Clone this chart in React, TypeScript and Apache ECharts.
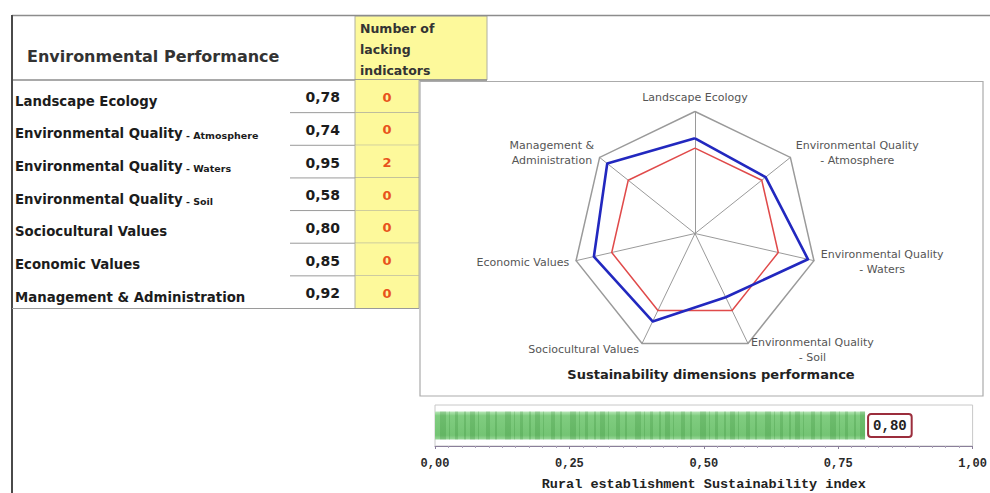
import React, { useEffect, useRef } from 'react';
import * as echarts from 'echarts';

// ---- data ----
const dimensionNames = [
  'Landscape Ecology',
  'Environmental Quality',
  'Environmental Quality',
  'Environmental Quality',
  'Sociocultural Values',
  'Economic Values',
  'Management & Administration',
];
const dimensionSubs = ['', 'Atmosphere', 'Waters', 'Soil', '', '', ''];
const performance = [0.78, 0.74, 0.95, 0.58, 0.8, 0.85, 0.92];
const lackingIndicators = [0, 0, 2, 0, 0, 0, 0];
const referenceLevel = [0.7, 0.7, 0.7, 0.7, 0.7, 0.7, 0.7];
const sustainabilityIndex = [0.8];
const indexCategories = ['Index'];
const headerTitle = 'Environmental Performance';
const headerLacking = ['Number of', 'lacking', 'indicators'];
const radarTitle = 'Sustainability dimensions performance';
const indexTitle = 'Rural establishment Sustainability index';

const fmt = (v: number) => Number(v).toFixed(2).replace('.', ',');
const fullName = (i: number) =>
  dimensionSubs[i] ? `${dimensionNames[i]}\n- ${dimensionSubs[i]}` : dimensionNames[i];

const SANS = '"DejaVu Sans", sans-serif';
const MONO = '"Liberation Mono", monospace';

export default function App() {
  const ref = useRef<HTMLDivElement>(null);
  useEffect(() => {
    const chart = echarts.init(ref.current!, null, { renderer: 'svg' });
    const radarOrder = [0, 6, 5, 4, 3, 2, 1];

    const option: any = {
      animation: false,
      backgroundColor: '#ffffff',
      grid: [
        { left: 12, top: 80, width: 407, height: 228.5, show: false },
        {
          left: 435,
          top: 405,
          width: 538,
          height: 41,
          show: true,
          borderColor: '#c8c8c8',
          borderWidth: 1,
          backgroundColor: 'transparent',
        },
      ],
      xAxis: [
        { gridIndex: 0, type: 'value', min: 0, max: 1, show: false },
        {
          gridIndex: 1,
          type: 'value',
          min: 0,
          max: 1,
          interval: 0.25,
          position: 'bottom',
          axisLine: { show: true, lineStyle: { color: '#8a7f9a', width: 1 } },
          axisTick: { show: true, length: 3, lineStyle: { color: '#8a7f9a' } },
          minorTick: { show: true, splitNumber: 10, length: 2, lineStyle: { color: '#aaa0b8' } },
          splitLine: { show: false },
          axisLabel: {
            formatter: (v: number) => fmt(v),
            fontFamily: MONO,
            fontSize: 12,
            fontWeight: 'bold',
            color: '#2a2a2a',
            margin: 12,
          },
          name: indexTitle,
          nameLocation: 'middle',
          nameGap: 31,
          nameTextStyle: { fontFamily: MONO, fontSize: 13.5, color: '#222', fontWeight: 'bold' },
        },
      ],
      yAxis: [
        {
          gridIndex: 0,
          type: 'category',
          inverse: true,
          data: dimensionNames.map((n, i) => (dimensionSubs[i] ? `${n} - ${dimensionSubs[i]}` : n)),
          show: false,
        },
        { gridIndex: 1, type: 'category', data: indexCategories, show: false },
      ],
      radar: {
        center: [695, 233.5],
        radius: 122,
        startAngle: 90,
        splitNumber: 1,
        shape: 'polygon',
        nameGap: 7,
        indicator: radarOrder.map((i) => ({ name: fullName(i), min: 0, max: 1 })),
        axisName: {
          formatter: (n: string) =>
            n
              .replace('& ', '&\n')
              .split('\n')
              .map((l) => `{c|${l}}`)
              .join('\n'),
          rich: {
            c: { align: 'center', fontSize: 11, fontFamily: SANS, color: '#555', lineHeight: 15 },
          },
        },
        axisLine: { lineStyle: { color: '#9a9a9a', width: 1 } },
        splitLine: { lineStyle: { color: '#9a9a9a', width: 1.5 } },
        splitArea: { show: false },
        axisTick: { show: false },
        axisLabel: { show: false },
      },
      series: [
        {
          type: 'custom',
          xAxisIndex: 0,
          yAxisIndex: 0,
          data: dimensionNames.map((_, i) => [0, i, performance[i], lackingIndicators[i]]),
          encode: { x: 0, y: 1 },
          renderItem: (params: any, api: any) => {
            const i = api.value(1);
            const c = api.coord([0, i]);
            const h = api.size([0, 1])[1];
            const cs = params.coordSys;
            const x0 = cs.x;
            const top = c[1] - h / 2;
            const last = i === dimensionNames.length - 1;
            const sub = dimensionSubs[i];
            const text = sub
              ? `{m|${dimensionNames[i]}}{s| - ${sub}}`
              : `{m|${dimensionNames[i]}}`;
            return {
              type: 'group',
              children: [
                {
                  type: 'rect',
                  shape: { x: x0 + 343, y: top, width: 64, height: h },
                  style: { fill: '#fdf99b' },
                },
                {
                  type: 'line',
                  shape: { x1: x0 + 343, y1: top, x2: x0 + 343, y2: top + h },
                  style: { stroke: '#b0b0a0', lineWidth: 1 },
                },
                {
                  type: 'line',
                  shape: { x1: x0 + 407, y1: top, x2: x0 + 407, y2: top + h },
                  style: { stroke: '#b0b0a0', lineWidth: 1 },
                },
                {
                  type: 'text',
                  style: {
                    x: x0 + 3,
                    y: c[1] + 5,
                    text,
                    align: 'left',
                    verticalAlign: 'middle',
                    rich: {
                      m: {
                        fontFamily: SANS,
                        fontSize: 13.3,
                        fontWeight: 'bold',
                        fill: '#1c1c1c',
                        lineHeight: 16,
                      },
                      s: {
                        fontFamily: SANS,
                        fontSize: 9.5,
                        fontWeight: 'bold',
                        fill: '#1c1c1c',
                        lineHeight: 16,
                        verticalAlign: 'bottom',
                        padding: [0, 0, 1, 0],
                      },
                    },
                  },
                },
                {
                  type: 'text',
                  style: {
                    x: x0 + 328,
                    y: c[1] + 1,
                    text: fmt(api.value(2)),
                    align: 'right',
                    verticalAlign: 'middle',
                    fontFamily: SANS,
                    fontSize: 14,
                    fontWeight: 'bold',
                    fill: '#1c1c1c',
                  },
                },
                {
                  type: 'text',
                  style: {
                    x: x0 + 375,
                    y: c[1] + 1,
                    text: String(api.value(3)),
                    align: 'center',
                    verticalAlign: 'middle',
                    fontFamily: SANS,
                    fontSize: 13,
                    fontWeight: 'bold',
                    fill: '#e8531c',
                  },
                },
                {
                  type: 'line',
                  shape: last
                    ? { x1: x0, y1: top + h, x2: x0 + 407, y2: top + h }
                    : { x1: x0 + 278, y1: top + h, x2: x0 + 407, y2: top + h },
                  style: { stroke: '#9a9a9a', lineWidth: 1 },
                },
              ],
            };
          },
        },
        {
          type: 'radar',
          symbol: 'none',
          data: [
            {
              name: 'Reference',
              value: radarOrder.map((i) => referenceLevel[i]),
              lineStyle: { color: '#e04a4a', width: 1.5 },
            },
            {
              name: 'Performance',
              value: radarOrder.map((i) => performance[i]),
              lineStyle: { color: '#2228bf', width: 2.6 },
            },
          ],
        },
        {
          type: 'bar',
          xAxisIndex: 1,
          yAxisIndex: 1,
          data: sustainabilityIndex,
          barWidth: 28,
          itemStyle: {
            color: new echarts.graphic.LinearGradient(0, 0, 0, 1, [
              { offset: 0, color: '#b8e6b8' },
              { offset: 0.15, color: '#80cd80' },
              { offset: 0.85, color: '#74c474' },
              { offset: 1, color: '#9ad89a' },
            ]),
            decal: {
              symbol: 'rect',
              symbolSize: 1,
              color: 'rgba(40,125,40,0.22)',
              dashArrayX: [3, 6, 2, 4, 5, 3, 1, 7, 4, 5, 2, 8, 6, 3, 1, 5],
              dashArrayY: [5, 0],
              rotation: 0,
            },
          },
          label: {
            show: true,
            position: 'right',
            distance: 4,
            formatter: (p: any) => fmt(p.value),
            fontFamily: MONO,
            fontWeight: 'bold',
            fontSize: 14,
            color: '#222',
            backgroundColor: '#fff',
            borderColor: '#9b2d3c',
            borderWidth: 2,
            borderRadius: 2,
            padding: [4, 4, 3, 4],
          },
        },
      ],
      graphic: [
        {
          type: 'rect',
          shape: { x: 420, y: 81.5, width: 563, height: 314.5 },
          style: { fill: 'none', stroke: '#ababab', lineWidth: 1.2 },
          z: -10,
        },
        {
          type: 'rect',
          shape: { x: 355, y: 16, width: 132, height: 64 },
          style: { fill: '#fdf99b', stroke: '#b0b0a0', lineWidth: 1 },
        },
        {
          type: 'line',
          shape: { x1: 12, y1: 15.5, x2: 990, y2: 15.5 },
          style: { stroke: '#8c8c8c', lineWidth: 1.5 },
        },
        {
          type: 'line',
          shape: { x1: 12, y1: 80, x2: 487, y2: 80 },
          style: { stroke: '#8c8c8c', lineWidth: 1.5 },
        },
        {
          type: 'line',
          shape: { x1: 12, y1: 15, x2: 12, y2: 493 },
          style: { stroke: '#4a4a4a', lineWidth: 2 },
        },
        {
          type: 'text',
          x: 27,
          y: 56,
          style: {
            text: headerTitle,
            fontFamily: SANS,
            fontSize: 16,
            fontWeight: 'bold',
            fill: '#333',
            verticalAlign: 'middle',
          },
        },
        {
          type: 'text',
          x: 360,
          y: 18,
          style: {
            text: headerLacking.join('\n'),
            fontFamily: SANS,
            fontSize: 12.5,
            fontWeight: 'bold',
            fill: '#333',
            lineHeight: 21,
            verticalAlign: 'top',
          },
        },
        {
          type: 'text',
          x: 711,
          y: 374,
          style: {
            text: radarTitle,
            fontFamily: SANS,
            fontSize: 13,
            fontWeight: 'bold',
            fill: '#222',
            align: 'center',
            verticalAlign: 'middle',
          },
        },
      ],
    };

    chart.setOption(option);
    return () => chart.dispose();
  }, []);

  return (
    <div
      ref={ref}
      style={{ position: 'fixed', left: 0, top: 0, width: 990, height: 493, background: '#fff' }}
    />
  );
}
